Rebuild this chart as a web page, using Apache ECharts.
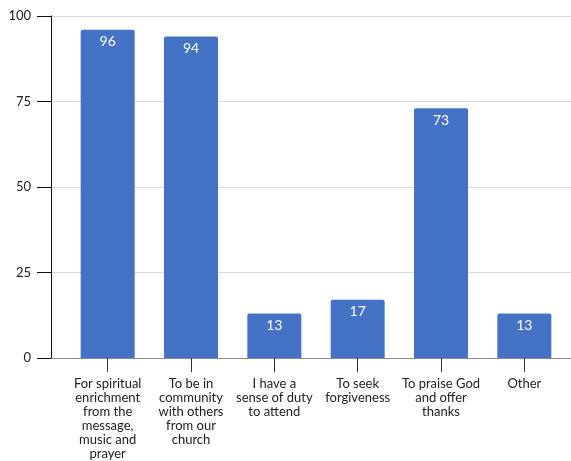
<!DOCTYPE html>
<html><head><meta charset="utf-8">
<script src="https://cdn.jsdelivr.net/npm/echarts@6/dist/echarts.min.js"></script>
<style>html,body{margin:0;padding:0;background:#fff}#c{width:571px;height:461px}</style>
</head><body><div id="c"></div>
<script>
const categories = [
  "For spiritual\nenrichment\nfrom the\nmessage,\nmusic and\nprayer",
  "To be in\ncommunity\nwith others\nfrom our\nchurch",
  "I have a\nsense of duty\nto attend",
  "To seek\nforgiveness",
  "To praise God\nand offer\nthanks",
  "Other"
];
const values = [96, 94, 13, 17, 73, 13];
const yMin = 0, yMax = 100, yStep = 25;

const font = 'Lato, "Open Sans", sans-serif';
const chart = echarts.init(document.getElementById('c'), null, {renderer: 'canvas'});
chart.setOption({
  animation: false,
  textStyle: {fontFamily: font},
  grid: [
    {left: 66, right: 5, top: 16, bottom: 103, containLabel: false},
    {left: 51, right: 0, top: 16, bottom: 103, containLabel: false}
  ],
  xAxis: [
    {
      type: 'category', gridIndex: 0, data: categories,
      axisLine: {show: true, lineStyle: {color: '#8c8c8c', width: 1}},
      axisTick: {show: true, alignWithLabel: true, length: 14, lineStyle: {color: '#333'}},
      axisLabel: {interval: 0, margin: 19, color: '#222', fontSize: 13, lineHeight: 14, fontFamily: font}
    },
    {
      type: 'category', gridIndex: 1, data: [''],
      axisLine: {show: true, lineStyle: {color: '#8c8c8c', width: 1}},
      axisTick: {show: false}, axisLabel: {show: false}
    }
  ],
  yAxis: [
    {
      type: 'value', gridIndex: 0, min: yMin, max: yMax, interval: yStep, offset: 15,
      axisLine: {show: true, lineStyle: {color: '#111', width: 1}},
      axisTick: {show: true, length: 14, lineStyle: {color: '#111'}},
      axisLabel: {margin: 20, color: '#222', fontSize: 13, fontFamily: font},
      splitLine: {show: false}
    },
    {
      type: 'value', gridIndex: 1, min: yMin, max: yMax, interval: yStep,
      axisLine: {show: false}, axisTick: {show: false}, axisLabel: {show: false},
      splitLine: {show: true, lineStyle: {color: '#d9d9d9', width: 1}}
    }
  ],
  series: [{
    type: 'bar', xAxisIndex: 0, yAxisIndex: 0, data: values,
    barWidth: 54,
    itemStyle: {color: '#4472C4', borderRadius: [2, 2, 0, 0]},
    label: {show: true, position: 'insideTop', distance: 5, color: '#fff', fontSize: 14, fontFamily: font}
  }]
});
</script></body></html>
